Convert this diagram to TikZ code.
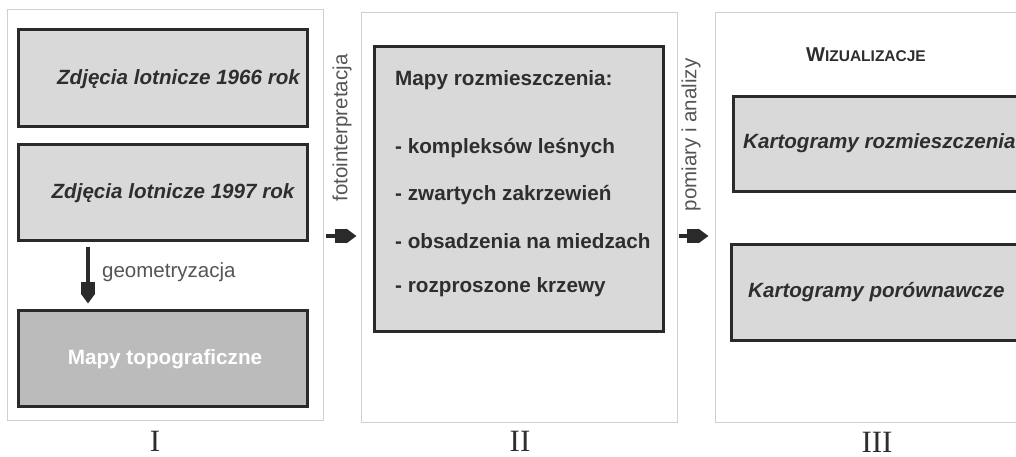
\documentclass[tikz,border=0pt]{standalone}
\usepackage{fontspec}
\setmainfont{Liberation Sans}
\newfontfamily\romnum{Liberation Serif}
\usetikzlibrary{arrows.meta}
\definecolor{framegray}{HTML}{D0D0D0}
\definecolor{boxline}{HTML}{2A2A2A}
\definecolor{boxfill}{HTML}{D9D9D9}
\definecolor{topofill}{HTML}{BBBBBB}
\definecolor{txt}{HTML}{2E2E2E}
\definecolor{lbl}{HTML}{555555}
\tikzset{
  panel/.style={draw=framegray, line width=1pt, fill=white, inner sep=0pt},
  imgbox/.style={draw=boxline, line width=3pt, fill=boxfill, inner sep=0pt},
  boxtxt/.style={text=txt, font=\fontsize{20.6}{24}\selectfont\bfseries\itshape, inner sep=0pt},
  listtxt/.style={text=txt, font=\fontsize{20.7}{24}\selectfont\bfseries, inner sep=0pt, anchor=west},
  proc/.style={text=lbl, font=\fontsize{20.5}{24}\selectfont, inner sep=0pt},
  roman/.style={text=txt, font=\fontsize{31}{34}\selectfont\romnum, inner sep=0pt},
  bigarrow/.style={draw=boxline, line width=4pt,
    -{Rectangle[length=12pt,width=14pt,sep=0pt]Triangle[length=10pt,width=14pt,sep=0pt]}},
}
\begin{document}
\begin{tikzpicture}[x=1pt,y=-1pt]
\useasboundingbox (0,0) rectangle (1016,457);
\clip (0,0) rectangle (1016,457);
% panels
\node[panel, minimum width=316, minimum height=410] (pI) at (165,215) {};
\node[panel, minimum width=316, minimum height=409] (pII) at (519,217.5) {};
\node[panel, minimum width=316, minimum height=409] (pIII) at (873,217.5) {};
% panel I boxes
\node[imgbox, minimum width=289, minimum height=97] (b1) at (163,78) {};
\node[imgbox, minimum width=289, minimum height=96] (b2) at (163,192.5) {};
\node[imgbox, fill=topofill, minimum width=289, minimum height=96] (b3) at (163,358.5) {};
\node[boxtxt] (t1) at (178.5,79) {Zdjęcia lotnicze 1966 rok};
\node[boxtxt] (t2) at (173,193) {Zdjęcia lotnicze 1997 rok};
\node[text=white, font=\fontsize{20.7}{24}\selectfont\bfseries, inner sep=0pt] (t3) at (165,359) {Mapy topograficzne};
\coordinate (ax) at (88,0);
\draw[bigarrow, shorten <=4.5pt, shorten >=5.5pt] (b2.south -| ax) -- (b3.north -| ax);
\node[proc, anchor=west] (geo) at (102,272) {geometryzacja};
% panel II
\node[imgbox, minimum width=289, minimum height=285] (b4) at (519,189) {};
\node[listtxt] (m0) at (395,80) {Mapy rozmieszczenia:};
\node[listtxt] (m1) at (395,148) {- kompleksów leśnych};
\node[listtxt] (m2) at (395,195) {- zwartych zakrzewień};
\node[listtxt] (m3) at (395,241) {- obsadzenia na miedzach};
\node[listtxt] (m4) at (395,287) {- rozproszone krzewy};
% panel III
\node[text=txt, inner sep=0pt, font=\bfseries] (wiz) at (866,55)
  {\fontsize{20}{24}\selectfont W\fontsize{15.5}{18}\selectfont IZUALIZACJE};
\node[imgbox, minimum width=289, minimum height=95] (k1) at (878,144) {};
\node[imgbox, minimum width=289, minimum height=96] (k2) at (876,292.5) {};
\node[boxtxt, anchor=west] (kt1) at (743,143) {Kartogramy rozmieszczenia};
\node[boxtxt, anchor=west] (kt2) at (748,292) {Kartogramy porównawcze};
% connectors between panels
\coordinate (ay) at (0,236);
\draw[bigarrow, shorten <=2pt, shorten >=4pt] (pI.east |- ay) -- (pII.west |- ay);
\draw[bigarrow, shorten <=1pt, shorten >=6pt] (pII.east |- ay) -- (pIII.west |- ay);
\node[proc, rotate=90] (foto) at (342,128) {fotointerpretacja};
\node[proc, rotate=90] (pom) at (691,135) {pomiary i analizy};
% panel labels
\node[roman] (lI) at (155,441) {I};
\node[roman] (lII) at (520,441) {II};
\node[roman] (lIII) at (877,442) {III};
\end{tikzpicture}
\end{document}
